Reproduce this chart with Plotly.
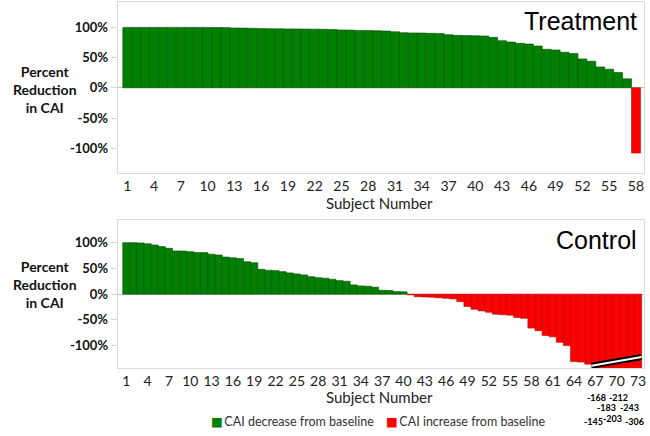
import plotly.graph_objects as go

# ---------------- data ----------------
treatment_subjects = list(range(1, 59))
treatment_values = [
    100, 100, 100, 100, 100, 100, 100, 100, 100, 100, 99.8, 99.6,
    99.0, 98.8, 98.5, 98.0, 97.8, 97.6, 97.5, 97.4, 97.2, 97.1, 96.8, 96.5,
    95.8, 95.5, 95.0, 94.8, 94.4, 94.0, 92.8, 91.2, 90.8, 90.6, 90.2, 90.0,
    88.0, 86.8, 86.4, 86.2, 85.7, 83.5, 78.0, 75.8, 73.6, 72.5, 69.2, 63.7,
    62.6, 58.8, 56.6, 47.8, 43.9, 34.6, 30.8, 25.3, 14.8, -108,
]

control_subjects = list(range(1, 74))
control_values = [
    100, 100, 99.5, 98, 95.5, 92.3, 89, 84, 83.7, 82.5, 81, 80.7,
    77.5, 76, 72, 70.5, 69, 63, 61, 48.3, 46.4, 45.7, 43.7, 41.2,
    39.2, 37.3, 34, 32, 30.9, 28.9, 26.3, 25, 17.9, 15.9, 15.3, 13.5,
    7.5, 7.2, 4.9, 4.6, -1.5, -5, -5.5, -6, -7, -8, -9.3, -14.5,
    -24, -29.4, -32.6, -35.2, -39, -40, -40.8, -45.5, -47, -66,
    -71, -80.5, -83, -93.5, -100, -131, -132, -136,
    -145, -168, -183, -203, -212, -243, -306,
]

treatment_tick_vals = list(range(1, 59, 3))
control_tick_vals = list(range(1, 74, 3))
y_tick_vals = [-100, -50, 0, 50, 100]
y_tick_text = [f"{v}%" for v in y_tick_vals]

legend_names = ["CAI decrease from baseline", "CAI increase from baseline"]
panel_titles = ["Treatment", "Control"]
x_title = "Subject Number"
y_title = "Percent<br>Reduction<br>in CAI"

# subjects whose bars run off the bottom of the control panel
truncated_subjects = [67, 68, 69, 70, 71, 72, 73]

GREEN = "#008000"
RED = "#ff0000"
GREEN_EDGE = "#0b4d0b"
RED_EDGE = "#b30000"

W, H = 650, 436


def px_x(p):
    return p / W


def px_y(p):
    return 1 - p / H


fig = go.Figure()


def add_panel(subjects, values, xa, ya):
    pos = [(s, v) for s, v in zip(subjects, values) if v >= 0]
    neg = [(s, v) for s, v in zip(subjects, values) if v < 0]
    for pts, name, col, edge in [
        (pos, legend_names[0], GREEN, GREEN_EDGE),
        (neg, legend_names[1], RED, RED_EDGE),
    ]:
        fig.add_trace(go.Bar(
            x=[p[0] for p in pts], y=[p[1] for p in pts],
            width=1.0, name=name, showlegend=False,
            marker=dict(color=col, line=dict(color=edge, width=0.6)),
            xaxis=xa, yaxis=ya, hoverinfo="x+y",
        ))


add_panel(treatment_subjects, treatment_values, "x", "y")
add_panel(control_subjects, control_values, "x2", "y2")

xdom = [px_x(118), px_x(646)]
frame = "#d9d9d9"
tickfont_x = dict(family="Lato, Arial, sans-serif", size=14, color="#222222")

common_x = dict(
    domain=xdom, showgrid=False, zeroline=False, showline=True, mirror=True,
    linecolor=frame, linewidth=1, ticks="",
    tickfont=tickfont_x, fixedrange=True,
)
common_y = dict(
    showgrid=False, zeroline=True, zerolinecolor="#bfbfbf", zerolinewidth=1.2,
    showline=True, mirror=True, linecolor=frame, linewidth=1,
    ticks="outside", ticklen=6, tickcolor=frame,
    tickvals=y_tick_vals, ticktext=y_tick_text,
    tickfont=dict(family="Lato, Arial, sans-serif", size=13, color="#111111", weight="bold"),
    fixedrange=True,
)

fig.update_layout(
    width=W, height=H, autosize=False,
    margin=dict(l=0, r=0, t=0, b=0),
    paper_bgcolor="white", plot_bgcolor="white",
    barmode="overlay", bargap=0,
    xaxis=dict(common_x, anchor="y", range=[-0.08, 58.9],
               tickvals=treatment_tick_vals, ticktext=[str(v) for v in treatment_tick_vals]),
    yaxis=dict(common_y, anchor="x", domain=[px_y(173), px_y(2)], range=[-141, 142]),
    xaxis2=dict(common_x, anchor="y2", range=[-0.22, 73.84],
                tickvals=control_tick_vals, ticktext=[str(v) for v in control_tick_vals]),
    yaxis2=dict(common_y, anchor="x2", domain=[px_y(368), px_y(220)], range=[-143.5, 144]),
    showlegend=False,
)

ann = []
title_font = dict(family="Liberation Sans, Arial, sans-serif", size=25, color="#000000")
ann.append(dict(text=panel_titles[0], x=px_x(641), y=px_y(21), xref="paper", yref="paper",
                xanchor="right", yanchor="middle", showarrow=False, font=title_font))
ann.append(dict(text=panel_titles[1], x=px_x(641), y=px_y(240), xref="paper", yref="paper",
                xanchor="right", yanchor="middle", showarrow=False, font=title_font))
xt_font = dict(family="Lato, Arial, sans-serif", size=15, color="#222222")
for yy in (203, 397):
    ann.append(dict(text=x_title, x=px_x(381), y=px_y(yy), xref="paper", yref="paper",
                    xanchor="center", yanchor="middle", showarrow=False, font=xt_font))
yt_font = dict(family="Lato, Arial, sans-serif", size=14, color="#111111", weight="bold")
for yy in (89, 284):
    ann.append(dict(text=y_title, x=px_x(45), y=px_y(yy), xref="paper", yref="paper",
                    xanchor="center", yanchor="middle", showarrow=False, font=yt_font,
                    align="center"))

# legend drawn as text with coloured squares
leg_font = dict(family="Lato, DejaVu Sans, sans-serif", size=12.5, color="#333333")
for name, col, xl in [(legend_names[0], GREEN, 210), (legend_names[1], RED, 385)]:
    ann.append(dict(text=f"<span style='color:{col}'>■</span>\u2009{name}",
                    x=px_x(xl), y=px_y(421), xref="paper", yref="paper",
                    xanchor="left", yanchor="middle", showarrow=False, font=leg_font))

# value labels for truncated bars (staggered like the original)
label_layout = {67: (-0.3, 421.5), 68: (-0.83, 397), 69: (-0.4, 407),
                70: (-0.55, 418), 71: (-0.7, 397), 72: (-0.15, 407), 73: (-0.45, 421.5)}
lab_font = dict(family="Lato, Arial, sans-serif", size=9, color="#000000", weight="bold")
for s in truncated_subjects:
    v = control_values[control_subjects.index(s)]
    dx, yy = label_layout[s]
    ann.append(dict(text=f"{v:.0f}", x=s + dx, y=px_y(yy), xref="x2", yref="paper",
                    xanchor="center", yanchor="middle", showarrow=False, font=lab_font))
fig.update_layout(annotations=ann)

# axis-break marks across the truncated bars
x0b, x1b = truncated_subjects[0] - 0.55, truncated_subjects[-1] + 0.5
fig.add_shape(type="line", xref="x2", yref="y2", x0=x0b, x1=x1b, y0=-139, y1=-122,
              line=dict(color="black", width=6))
fig.add_shape(type="line", xref="x2", yref="y2", x0=x0b, x1=x1b, y0=-139, y1=-122,
              line=dict(color="white", width=2))

fig.write_html(
    "out.html",
    config={"displayModeBar": False, "staticPlot": True},
    post_script="document.body.style.margin='0px';document.body.style.overflow='hidden';",
)
